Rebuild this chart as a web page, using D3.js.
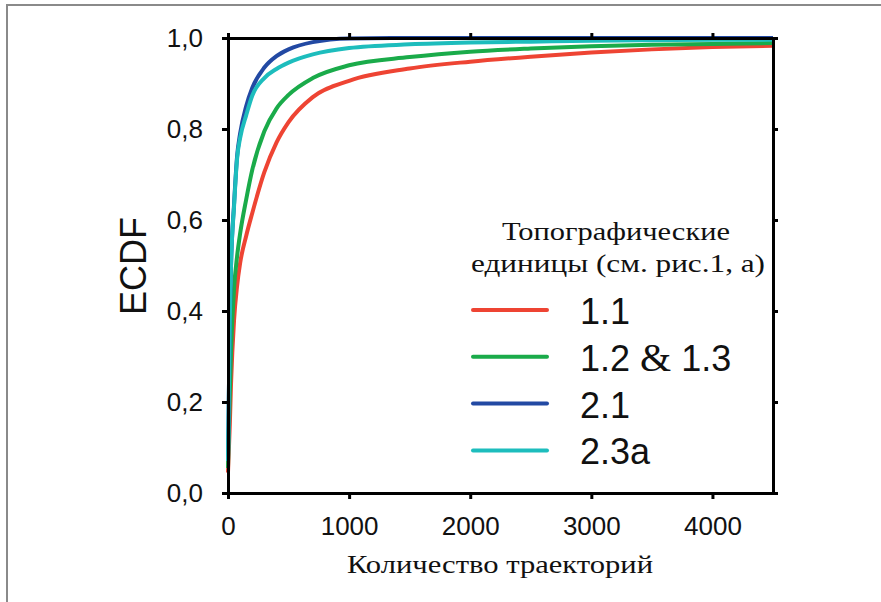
<!DOCTYPE html>
<html>
<head>
<meta charset="utf-8">
<script src="https://cdn.jsdelivr.net/npm/d3@7"></script>
<style>
  body { margin: 0; background: #fff; }
  svg { display: block; }
  .tick text { font-family: "Liberation Sans", Arial, sans-serif; font-size: 26px; fill: #111; }
</style>
</head>
<body>
<div id="chart"></div>
<script>
// shared x sample positions (number of trajectories)
const xs = [0, 15, 25, 50, 75, 100, 150, 200, 300, 400, 500, 700, 1000, 1500, 2000, 2500, 3000, 3500, 4000, 4500];

const unit11   = [0.045, 0.15, 0.24, 0.38, 0.455, 0.505, 0.565, 0.615, 0.705, 0.77, 0.815, 0.87, 0.906, 0.933, 0.948, 0.959, 0.968, 0.975, 0.98, 0.983];
const unit1213 = [0.055, 0.22, 0.31, 0.45, 0.52, 0.57, 0.645, 0.71, 0.795, 0.845, 0.875, 0.912, 0.94, 0.958, 0.97, 0.977, 0.982, 0.985, 0.987, 0.989];
const unit21   = [0.07, 0.38, 0.5, 0.635, 0.74, 0.79, 0.85, 0.89, 0.935, 0.96, 0.975, 0.991, 0.999, 1, 1, 1, 1, 1, 1, 1];
const unit23a  = [0.07, 0.38, 0.5, 0.63, 0.735, 0.78, 0.83, 0.873, 0.912, 0.932, 0.946, 0.964, 0.978, 0.986, 0.99, 0.992, 0.994, 0.995, 0.996, 0.996];

const seriesNames = ['1.1', '1.2 & 1.3', '2.1', '2.3a'];
const seriesColors = ['#ee4433', '#1aab4a', '#2249a3', '#1dbdbd'];
const seriesValues = [unit11, unit1213, unit21, unit23a];

const xTicks = [0, 1000, 2000, 3000, 4000];
const yTicks = [0, 0.2, 0.4, 0.6, 0.8, 1.0];

const legendTitle = ['Топографические', 'единицы (см. рис.1, а)'];
const xTitle = 'Количество траекторий';
const yTitle = 'ECDF';

let width = 881, height = 602;
const margin = {left: 228, top: 38, right: 108, bottom: 109};
const plotW = width - margin.left - margin.right,
      plotH = height - margin.top - margin.bottom;

const svg = d3.select('#chart')
  .append('svg')
  .attr('width', width)
  .attr('height', height);

// page frame (only top/left edges show)
svg.append('path')
  .attr('d', `M7,${height} V5 H${width}`)
  .attr('fill', 'none')
  .attr('stroke', '#8a8a8a')
  .attr('stroke-width', 2);

const g = svg.append('g').attr('transform', `translate(${margin.left},${margin.top})`);

const xScale = d3.scaleLinear().domain([0, 4500]).range([0, plotW]);
const yScale = d3.scaleLinear().domain([0, 1]).range([plotH, 0]);

const line = d3.line()
  .x((d) => xScale(d[0]))
  .y((d) => yScale(d[1]))
  .curve(d3.curveMonotoneX);

seriesValues.forEach((vals, i) => {
  g.append('path')
    .datum(xs.map((x, j) => [x, vals[j]]))
    .attr('d', line)
    .attr('fill', 'none')
    .attr('stroke', seriesColors[i])
    .attr('stroke-width', 4)
    .attr('stroke-linejoin', 'round');
});

const fmt = (d) => d.toFixed(1).replace('.', ',');

function styleAxis(sel) {
  sel.select('.domain').attr('stroke', '#000').attr('stroke-width', 3);
  sel.selectAll('.tick line').attr('stroke', '#000').attr('stroke-width', 3);
}

g.append('g')
  .attr('transform', `translate(0,${plotH})`)
  .call(d3.axisBottom(xScale).tickValues(xTicks).tickFormat(d3.format('d')).tickSize(6).tickSizeOuter(0).tickPadding(18))
  .call(styleAxis);

g.append('g')
  .call(d3.axisTop(xScale).tickValues(xTicks).tickFormat('').tickSize(5).tickSizeOuter(0))
  .call(styleAxis);

g.append('g')
  .call(d3.axisLeft(yScale).tickValues(yTicks).tickFormat(fmt).tickSize(6).tickSizeOuter(0).tickPadding(19))
  .call(styleAxis);

g.append('g')
  .attr('transform', `translate(${plotW},0)`)
  .call(d3.axisRight(yScale).tickValues(yTicks).tickFormat('').tickSize(5).tickSizeOuter(0))
  .call(styleAxis);

svg.selectAll('.domain').attr('stroke-linecap', 'square');

// axis titles
svg.append('text')
  .attr('transform', `translate(146,266) rotate(-90)`)
  .attr('text-anchor', 'middle')
  .style('font-family', '"Liberation Sans", Arial, sans-serif')
  .style('font-size', '36px')
  .attr('fill', '#111')
  .text(yTitle);

svg.append('text')
  .attr('x', 347)
  .attr('y', 573)
  .attr('textLength', 306)
  .attr('lengthAdjust', 'spacingAndGlyphs')
  .style('font-family', '"Liberation Serif", "Times New Roman", serif')
  .style('font-size', '25px')
  .attr('fill', '#111')
  .text(xTitle);

// legend
const legend = svg.append('g');
const titleLeft = [502, 471], titleWidth = [228, 294];
legendTitle.forEach((t, i) => {
  legend.append('text')
    .attr('x', titleLeft[i])
    .attr('y', 240 + i * 32)
    .attr('textLength', titleWidth[i])
    .attr('lengthAdjust', 'spacingAndGlyphs')
    .style('font-family', '"Liberation Serif", "Times New Roman", serif')
    .style('font-size', '25px')
    .attr('fill', '#111')
    .text(t);
});

seriesNames.forEach((name, i) => {
  const y = 310 + i * 46.8;
  legend.append('line')
    .attr('x1', 473).attr('x2', 547)
    .attr('y1', y).attr('y2', y)
    .attr('stroke', seriesColors[i])
    .attr('stroke-width', 4)
    .attr('stroke-linecap', 'round');
  const txt = legend.append('text')
    .attr('x', 580)
    .attr('y', y + 14)
    .style('font-family', '"Liberation Sans", Arial, sans-serif')
    .style('font-size', '36px')
    .attr('fill', '#111');
  name.split(/(&)/).forEach((part) => {
    const ts = txt.append('tspan').text(part);
    if (part === '&') ts.style('font-family', '"Liberation Serif", serif').style('font-size', '40px');
  });
});
</script>
</body>
</html>
